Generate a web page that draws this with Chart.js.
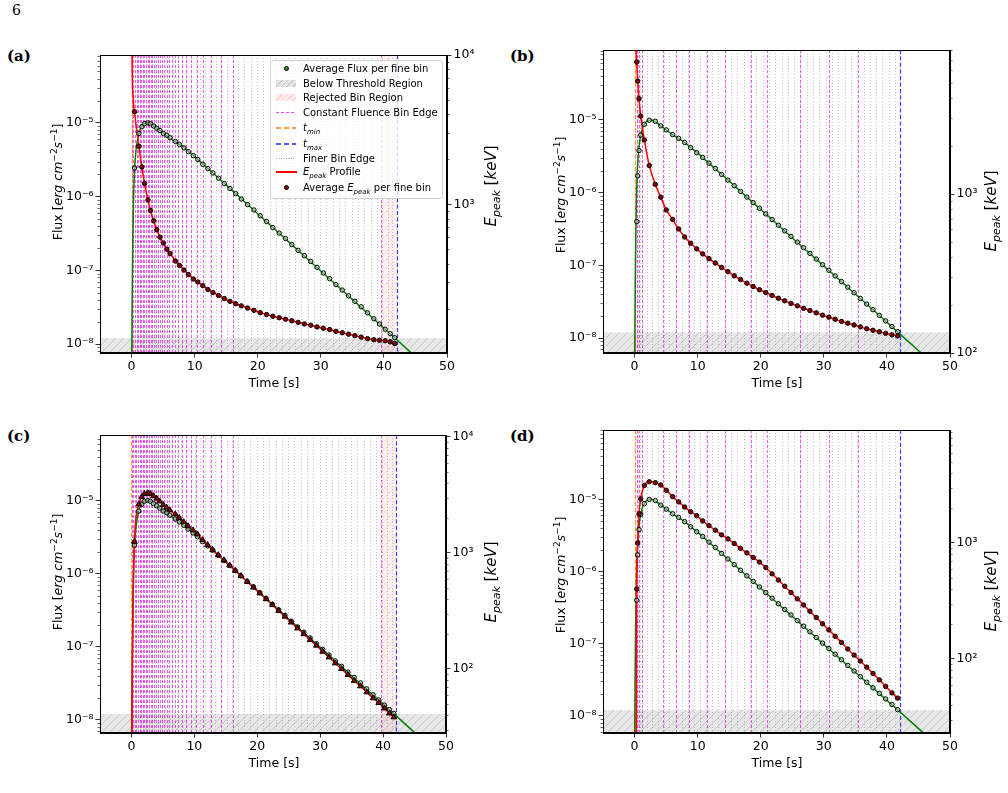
<!DOCTYPE html>
<html>
<head>
<meta charset="utf-8">
<script src="https://cdn.jsdelivr.net/npm/chart.js@4.4.0/dist/chart.umd.min.js"></script>
<style>
  body { margin: 0; background: #fff; width: 1008px; height: 793px; position: relative; overflow: hidden; font-family: 'DejaVu Sans', sans-serif; }
  canvas { position: absolute; }
  .plabel { position: absolute; font-family: 'DejaVu Serif', serif; font-weight: bold; font-size: 15px; }
  .ytitle { position: absolute; font-size: 12.5px; white-space: nowrap; transform: translate(-50%, -50%) rotate(-90deg); }
  .etitle { font-size: 15px; }
  .xtitle { position: absolute; font-size: 12.5px; white-space: nowrap; transform: translate(-50%, -50%); }
  .ytitle sup { font-size: 9px; }
  .ytitle sub { font-size: 11px; }
  #legend { position: absolute; left: 270px; top: 60px; width: 171px; height: 137px; border: 1px solid #d0d0d0; border-radius: 3px; background: rgba(255,255,255,0.8); font-size: 10px; }
  #legend .row { position: absolute; left: 0; height: 14px; line-height: 14px; width: 100%; }
  #legend .txt { position: absolute; left: 32px; top: 0; white-space: nowrap; }
  #legend .mk { position: absolute; display: block; }
  #legend sub { font-size: 7px; }
</style>
</head>
<body>
<div style="position:absolute;left:12px;top:2px;font-family:'DejaVu Serif',serif;font-size:14px;">6</div>
<div class="plabel" style="left:7px;top:47px;">(a)</div>
<div class="plabel" style="left:510px;top:47px;">(b)</div>
<div class="plabel" style="left:7px;top:427px;">(c)</div>
<div class="plabel" style="left:510px;top:427px;">(d)</div>

<canvas id="ca"></canvas>
<canvas id="cb"></canvas>
<canvas id="cc"></canvas>
<canvas id="cd"></canvas>

<div class="ytitle" style="left:57px;top:182px;">Flux [<i>erg cm</i><sup>−2</sup><i>s</i><sup>−1</sup>]</div>
<div class="ytitle etitle" style="left:492px;top:186px;"><i>E<sub>peak</sub></i> [<i>keV</i>]</div>
<div class="ytitle" style="left:560px;top:195px;">Flux [<i>erg cm</i><sup>−2</sup><i>s</i><sup>−1</sup>]</div>
<div class="ytitle etitle" style="left:992px;top:211px;"><i>E<sub>peak</sub></i> [<i>keV</i>]</div>
<div class="ytitle" style="left:57px;top:572px;">Flux [<i>erg cm</i><sup>−2</sup><i>s</i><sup>−1</sup>]</div>
<div class="ytitle etitle" style="left:492px;top:582px;"><i>E<sub>peak</sub></i> [<i>keV</i>]</div>
<div class="ytitle" style="left:560px;top:575px;">Flux [<i>erg cm</i><sup>−2</sup><i>s</i><sup>−1</sup>]</div>
<div class="ytitle etitle" style="left:992px;top:591px;"><i>E<sub>peak</sub></i> [<i>keV</i>]</div>
<div class="xtitle" style="left:274px;top:382px;">Time [s]</div>
<div class="xtitle" style="left:777px;top:382px;">Time [s]</div>
<div class="xtitle" style="left:274px;top:762px;">Time [s]</div>
<div class="xtitle" style="left:777px;top:762px;">Time [s]</div>

<div id="legend">
  <div class="row" style="top:1px;"><span class="mk" style="left:13px;top:4px;width:3px;height:3px;border:1px solid #000;border-radius:50%;background:#2e8b2e;"></span><span class="txt">Average Flux per fine bin</span></div>
  <div class="row" style="top:16px;"><span class="mk" style="left:5px;top:3px;width:20px;height:7px;background:repeating-linear-gradient(135deg,rgba(150,150,150,0.5) 0 1px,rgba(215,215,215,0.6) 1px 4px);"></span><span class="txt">Below Threshold Region</span></div>
  <div class="row" style="top:30px;"><span class="mk" style="left:5px;top:3px;width:20px;height:7px;background:repeating-linear-gradient(135deg,rgba(255,170,170,0.5) 0 1px,rgba(255,225,225,0.6) 1px 4px);"></span><span class="txt">Rejected Bin Region</span></div>
  <div class="row" style="top:45px;"><span class="mk" style="left:5px;top:6px;width:20px;height:1px;background:repeating-linear-gradient(90deg,#ff40ff 0 3px,transparent 3px 5px);"></span><span class="txt">Constant Fluence Bin Edge</span></div>
  <div class="row" style="top:60px;"><span class="mk" style="left:5px;top:6px;width:20px;height:2px;background:repeating-linear-gradient(90deg,#ffa040 0 5px,transparent 5px 8px);"></span><span class="txt"><i>t<sub>min</sub></i></span></div>
  <div class="row" style="top:76px;"><span class="mk" style="left:5px;top:6px;width:20px;height:2px;background:repeating-linear-gradient(90deg,#5a5aff 0 5px,transparent 5px 8px);"></span><span class="txt"><i>t<sub>max</sub></i></span></div>
  <div class="row" style="top:91px;"><span class="mk" style="left:5px;top:6px;width:20px;height:1px;background:repeating-linear-gradient(90deg,#aaa 0 1px,transparent 1px 2.5px);"></span><span class="txt">Finer Bin Edge</span></div>
  <div class="row" style="top:104px;"><span class="mk" style="left:5px;top:6px;width:21px;height:2px;background:#ff0000;"></span><span class="txt"><i>E<sub>peak</sub></i> Profile</span></div>
  <div class="row" style="top:120px;"><span class="mk" style="left:13px;top:4px;width:3px;height:3px;border:1px solid #000;border-radius:50%;background:#8b0000;"></span><span class="txt">Average <i>E<sub>peak</sub></i> per fine bin</span></div>
</div>

<script>
// ---- shared axis ticks ----
const timeTicks = [0, 10, 20, 30, 40, 50];
const fluxThreshold = 1.2e-8;

// ---- flux light curve (green profile line), same burst in all panels ----
const fluxLineT = [0.0, 0.1, 0.2, 0.3, 0.4, 0.5, 0.7, 1.0, 1.3, 1.6, 2.0, 2.5, 3.0, 3.5, 4.0, 5.0, 6.0, 7.0, 8.0, 9.0, 10.0, 12.0, 14.0, 18.0, 22.0, 26.0, 30.0, 34.0, 38.0, 42.0, 46.0];
const fluxLineF = [3e-9, 4e-8, 2.5e-7, 8e-7, 1.6e-6, 2.5e-6, 4.2e-6, 6.3e-6, 7.9e-6, 8.9e-6, 9.7e-6, 1.0e-5, 9.8e-6, 9.2e-6, 8.5e-6, 7.3e-6, 6.3e-6, 5.55e-6, 4.85e-6, 4.1e-6, 3.5e-6, 2.45e-6, 1.72e-6, 8.4e-7, 4.1e-7, 2.0e-7, 9.8e-8, 4.8e-8, 2.35e-8, 1.15e-8, 5.6e-9];

// ---- panels (a) and (c): fine bins ----
const acBinT = [0.47, 1.16, 1.63, 2.06, 2.6, 3.0, 3.5, 4.0, 4.5, 5.05, 5.6, 6.1, 6.96, 7.6, 8.3, 9.0, 9.8, 10.5, 11.3, 12.1, 12.9, 13.8, 14.7, 15.6, 16.5, 17.4, 18.4, 19.4, 20.4, 21.4, 22.4, 23.4, 24.4, 25.4, 26.4, 27.4, 28.4, 29.4, 30.4, 31.4, 32.4, 33.4, 34.4, 35.4, 36.4, 37.4, 38.4, 39.3, 40.2, 41.0, 41.7];
const acBinFlux = [2.45e-6, 7.2e-6, 8.9e-6, 9.8e-6, 1.0e-5, 9.8e-6, 9.1e-6, 8.5e-6, 7.9e-6, 7.2e-6, 6.8e-6, 6.3e-6, 5.6e-6, 5.1e-6, 4.6e-6, 4.07e-6, 3.6e-6, 3.2e-6, 2.75e-6, 2.4e-6, 2.1e-6, 1.78e-6, 1.51e-6, 1.29e-6, 1.10e-6, 9.3e-7, 7.8e-7, 6.6e-7, 5.5e-7, 4.6e-7, 3.8e-7, 3.2e-7, 2.7e-7, 2.24e-7, 1.87e-7, 1.58e-7, 1.32e-7, 1.10e-7, 9.2e-8, 7.7e-8, 6.4e-8, 5.4e-8, 4.5e-8, 3.8e-8, 3.2e-8, 2.65e-8, 2.2e-8, 1.87e-8, 1.59e-8, 1.38e-8, 1.22e-8];
const acFluenceEdges = [0.05, 0.3, 0.55, 0.8, 1.05, 1.3, 1.55, 1.8, 2.05, 2.3, 2.55, 2.8, 3.05, 3.3, 3.6, 3.9, 4.2, 4.5, 4.85, 5.2, 5.6, 6.0, 6.45, 6.9, 7.4, 8.0, 8.7, 9.5, 10.3, 11.3, 12.6, 14.2, 16.1, 39.6];
const acFineEdges = [0.1, 0.8, 1.4, 1.85, 2.3, 2.8, 3.25, 3.75, 4.25, 4.8, 5.3, 5.85, 6.5, 7.3, 7.95, 8.65, 9.4, 10.15, 10.9, 11.7, 12.5, 13.35, 14.25, 15.15, 16.05, 16.95, 17.9, 18.9, 19.9, 20.9, 21.9, 22.9, 23.9, 24.9, 25.9, 26.9, 27.9, 28.9, 29.9, 30.9, 31.9, 32.9, 33.9, 34.9, 35.9, 36.9, 37.9, 38.85, 39.75, 40.6, 41.35, 42.1];
const acRejected = [39.6, 42.1];

// (a) E_peak falling hard-to-soft
const aEpeak = [4170, 2450, 1780, 1380, 1070, 910, 776, 676, 603, 550, 500, 468, 417, 389, 363, 339, 316, 302, 285, 269, 257, 245, 234, 224, 216, 209, 202, 195, 188, 183, 178, 174, 170, 166, 162, 158, 155, 151, 148, 145, 141, 138, 135, 132, 129, 126, 124, 123, 122, 120, 117];
const aEpeakStartT = [0.0, 0.1, 0.25];
const aEpeakStartE = [30000, 8000, 5200];

// (c) E_peak tracking the flux
const cEpeak = [1250, 2630, 3050, 3240, 3290, 3240, 3100, 2950, 2790, 2600, 2460, 2340, 2160, 2010, 1850, 1705, 1570, 1450, 1295, 1175, 1065, 960, 867, 782, 704, 634, 565, 504, 449, 400, 356, 317, 283, 252, 224, 200, 178, 159, 141, 126, 112, 100, 89, 79, 71, 63, 56, 51, 45.7, 41.4, 38.3];
const cEpeakStartT = [0.05, 0.15, 0.3];
const cEpeakStartE = [15, 120, 500];

// ---- panels (b) and (d): fine bins ----
const bdBinT = [0.35, 0.5, 0.71, 0.98, 1.55, 2.34, 3.29, 4.15, 5.03, 6.04, 6.99, 7.94, 8.9, 9.85, 10.8, 11.8, 12.8, 13.8, 14.8, 15.8, 16.8, 17.8, 18.8, 19.8, 20.8, 21.8, 22.8, 23.8, 24.8, 25.8, 26.8, 27.8, 28.8, 29.8, 30.8, 31.8, 32.8, 33.8, 34.8, 35.8, 36.8, 37.8, 38.8, 39.8, 40.8, 41.7];
const bdBinFlux = [4e-7, 1.7e-6, 3.8e-6, 6.2e-6, 8.7e-6, 9.95e-6, 9.6e-6, 8.3e-6, 7.3e-6, 6.3e-6, 5.6e-6, 4.9e-6, 4.15e-6, 3.55e-6, 3.05e-6, 2.55e-6, 2.15e-6, 1.78e-6, 1.49e-6, 1.245e-6, 1.04e-6, 8.7e-7, 7.3e-7, 6.1e-7, 5.1e-7, 4.27e-7, 3.57e-7, 2.98e-7, 2.5e-7, 2.09e-7, 1.75e-7, 1.46e-7, 1.22e-7, 1.02e-7, 8.56e-8, 7.16e-8, 5.99e-8, 5.01e-8, 4.19e-8, 3.5e-8, 2.93e-8, 2.45e-8, 2.05e-8, 1.72e-8, 1.44e-8, 1.22e-8];
const bdFluenceEdges = [0.35, 0.76, 1.14, 4.56, 6.5, 8.6, 11.5, 14.4, 18.5, 21.0, 26.2, 30.8, 35.4];
const bdFineEdges = [0.05, 0.42, 0.6, 0.85, 1.25, 1.95, 2.8, 3.7, 4.6, 5.5, 6.5, 7.45, 8.4, 9.4, 10.3, 11.3, 12.3, 13.3, 14.3, 15.3, 16.3, 17.3, 18.3, 19.3, 20.3, 21.3, 22.3, 23.3, 24.3, 25.3, 26.3, 27.3, 28.3, 29.3, 30.3, 31.3, 32.3, 33.3, 34.3, 35.3, 36.3, 37.3, 38.3, 39.3, 40.3, 41.3, 42.1];
const bdRejected = [0.0, 0.3];

// (b) E_peak
const bEpeak = [6760, 5130, 3980, 3090, 2190, 1510, 1150, 955, 794, 692, 603, 537, 490, 452, 420, 392, 368, 345, 325, 306, 290, 275, 262, 250, 240, 230, 221, 213, 205, 198, 191, 185, 179, 173, 168, 163, 158, 154, 150, 146, 142, 139, 136, 133, 130, 128];
const bEpeakStartT = [0.0, 0.2];
const bEpeakStartE = [30000, 9000];

// (d) E_peak
const dEpeak = [400, 1000, 1780, 2400, 3140, 3370, 3310, 3160, 2850, 2510, 2260, 2040, 1860, 1720, 1550, 1410, 1290, 1175, 1085, 990, 900, 822, 750, 684, 614, 542, 479, 424, 374, 330, 292, 258, 228, 201, 178, 157, 139, 122, 108, 96, 85, 75, 66, 58, 51, 46];
const dEpeakStartT = [0.25, 0.3];
const dEpeakStartE = [10, 60];

const tMin = 0.0;
const tMax = 42.1;

// ---- helpers ----
const SUP = { '-': '⁻', '0': '⁰', '1': '¹', '2': '²', '3': '³', '4': '⁴', '5': '⁵', '6': '⁶', '7': '⁷', '8': '⁸', '9': '⁹' };
const pow10Label = v => '10' + String(Math.round(Math.log10(v))).split('').map(c => SUP[c]).join('');
const xy = (ts, vs) => ts.map((t, i) => ({ x: t, y: vs[i] }));

function decadeTicks(scale) {
  const out = [];
  for (let e = -12; e <= 6; e++) {
    const v = Math.pow(10, e);
    if (v >= scale.min * 0.999 && v <= scale.max * 1.001) out.push({ value: v });
  }
  scale.ticks = out;
}

function hatchPattern(ctx, color) {
  const c = document.createElement('canvas');
  c.width = 8; c.height = 8;
  const g = c.getContext('2d');
  g.strokeStyle = color;
  g.lineWidth = 0.7;
  g.beginPath();
  g.moveTo(0, 8); g.lineTo(8, 0);
  g.moveTo(-2, 2); g.lineTo(2, -2);
  g.moveTo(6, 10); g.lineTo(10, 6);
  g.stroke();
  return ctx.createPattern(c, 'repeat');
}

function overlayPlugin(p) {
  return {
    id: 'overlay',
    beforeDatasetsDraw(chart) {
      const { ctx, chartArea: a, scales: { x, y } } = chart;
      ctx.save();
      ctx.beginPath();
      ctx.rect(a.left, a.top, a.right - a.left, a.bottom - a.top);
      ctx.clip();

      // below threshold band
      const yt = y.getPixelForValue(fluxThreshold);
      ctx.fillStyle = 'rgba(170,170,170,0.28)';
      ctx.fillRect(a.left, yt, a.right - a.left, a.bottom - yt);
      ctx.fillStyle = hatchPattern(ctx, 'rgba(120,120,120,0.4)');
      ctx.fillRect(a.left, yt, a.right - a.left, a.bottom - yt);

      // rejected bins
      const r1 = x.getPixelForValue(p.rejected[0]), r2 = x.getPixelForValue(p.rejected[1]);
      ctx.fillStyle = 'rgba(255,170,170,0.18)';
      ctx.fillRect(r1, a.top, r2 - r1, a.bottom - a.top);
      ctx.fillStyle = hatchPattern(ctx, 'rgba(255,140,140,0.3)');
      ctx.fillRect(r1, a.top, r2 - r1, a.bottom - a.top);

      const vlines = (ts, color, dash, w) => {
        ctx.strokeStyle = color; ctx.setLineDash(dash); ctx.lineWidth = w;
        ts.forEach(t => {
          const px = Math.round(x.getPixelForValue(t)) + 0.5;
          ctx.beginPath(); ctx.moveTo(px, a.top); ctx.lineTo(px, a.bottom); ctx.stroke();
        });
      };
      vlines(p.fine, 'rgba(130,130,130,0.6)', [1, 2], 0.8);
      vlines(p.fluence, 'rgba(230,0,230,0.7)', [3, 2], 0.9);
      vlines([tMin], 'rgba(255,140,0,0.8)', [4, 2.5], 1.2);
      vlines([tMax], 'rgba(30,30,255,0.85)', [4, 2.5], 1.2);
      ctx.restore();
    },
    afterDraw(chart) {
      const { ctx, chartArea: a, scales } = chart;
      ctx.save();
      ctx.strokeStyle = '#000';
      ctx.lineWidth = 1;
      ctx.strokeRect(a.left + 0.5, a.top + 0.5, a.right - a.left - 1, a.bottom - a.top - 1);
      // minor log ticks
      ctx.lineWidth = 0.6;
      [['y', a.left, -1], ['y2', a.right, 1]].forEach(([id, x0, dir]) => {
        const s = scales[id];
        for (let e = -12; e <= 6; e++) {
          for (let m = 2; m <= 9; m++) {
            const v = m * Math.pow(10, e);
            if (v <= s.min || v >= s.max) continue;
            const py = Math.round(s.getPixelForValue(v)) + 0.5;
            ctx.beginPath(); ctx.moveTo(x0, py); ctx.lineTo(x0 + dir * 2.5, py); ctx.stroke();
          }
        }
      });
      ctx.restore();
    }
  };
}

function makePanel(id, p) {
  const padL = 70, padR = 60, padT = 15, padB = 45;
  const cv = document.getElementById(id);
  cv.width = p.box.r - p.box.l + padL + padR;
  cv.height = p.box.b - p.box.t + padT + padB;
  cv.style.left = (p.box.l - padL) + 'px';
  cv.style.top = (p.box.t - padT) + 'px';

  const tickFont = { family: 'DejaVu Sans', size: 12.5 };
  const axisCommon = {
    grid: { drawOnChartArea: false, tickLength: 4.5, color: '#000', lineWidth: 0.8 },
    border: { display: true, color: '#000', width: 1 },
    ticks: { color: '#000', font: tickFont, padding: 2 }
  };

  new Chart(cv, {
    type: 'line',
    data: {
      datasets: [
        {
          label: 'Average Epeak per fine bin', yAxisID: 'y2', order: 0, showLine: false,
          data: xy(p.binT, p.epeak),
          pointStyle: p.epeakMarker, pointRadius: p.epeakMarker === 'triangle' ? 3.3 : 2.2,
          pointBackgroundColor: '#8b0000', pointBorderColor: '#000', pointBorderWidth: 1
        },
        {
          label: 'Average Flux per fine bin', yAxisID: 'y', order: 1, showLine: false,
          data: xy(p.binT, p.flux),
          pointRadius: 2.2, pointBackgroundColor: 'rgba(170,210,170,0.6)', pointBorderColor: '#000', pointBorderWidth: 1
        },
        {
          label: 'Epeak Profile', yAxisID: 'y2', order: 2,
          data: xy(p.epeakStartT, p.epeakStartE).concat(xy(p.binT, p.epeak)),
          borderColor: '#ff0000', borderWidth: 1.5, pointRadius: 0, cubicInterpolationMode: 'monotone'
        },
        {
          label: 'Flux Profile', yAxisID: 'y', order: 3,
          data: xy(fluxLineT, fluxLineF),
          borderColor: '#008000', borderWidth: 1.5, pointRadius: 0, cubicInterpolationMode: 'monotone'
        }
      ]
    },
    options: {
      responsive: false,
      animation: false,
      devicePixelRatio: 1,
      layout: { padding: { top: padT, left: 0, right: 0, bottom: 0 } },
      plugins: { legend: { display: false }, tooltip: { enabled: false } },
      scales: {
        x: {
          ...axisCommon, type: 'linear', min: -5, max: 50,
          afterBuildTicks: s => { s.ticks = timeTicks.map(v => ({ value: v })); },
          afterFit: s => { s.height = padB; },
          ticks: { ...axisCommon.ticks, callback: v => String(v) }
        },
        y: {
          ...axisCommon, type: 'logarithmic', position: 'left', min: p.fluxMin, max: p.fluxMax,
          afterBuildTicks: decadeTicks,
          afterFit: s => { s.width = padL; },
          ticks: { ...axisCommon.ticks, callback: pow10Label }
        },
        y2: {
          ...axisCommon, type: 'logarithmic', position: 'right', min: p.eMin, max: p.eMax,
          afterBuildTicks: decadeTicks,
          afterFit: s => { s.width = padR; },
          ticks: { ...axisCommon.ticks, callback: pow10Label }
        }
      }
    },
    plugins: [overlayPlugin(p)]
  });
}

makePanel('ca', {
  box: { l: 100, t: 55, r: 447, b: 353 },
  fluxMin: 7.55e-9, fluxMax: 8.37e-5, eMin: 101, eMax: 10000,
  binT: acBinT, flux: acBinFlux, epeak: aEpeak, epeakStartT: aEpeakStartT, epeakStartE: aEpeakStartE,
  epeakMarker: 'circle', fine: acFineEdges, fluence: acFluenceEdges, rejected: acRejected
});
makePanel('cb', {
  box: { l: 603, t: 50, r: 950, b: 353 },
  fluxMin: 6.22e-9, fluxMax: 9.18e-5, eMin: 100, eMax: 8050,
  binT: bdBinT, flux: bdBinFlux, epeak: bEpeak, epeakStartT: bEpeakStartT, epeakStartE: bEpeakStartE,
  epeakMarker: 'circle', fine: bdFineEdges, fluence: bdFluenceEdges, rejected: bdRejected
});
makePanel('cc', {
  box: { l: 100, t: 435, r: 446, b: 733 },
  fluxMin: 6.6e-9, fluxMax: 7.9e-5, eMin: 28, eMax: 10400,
  binT: acBinT, flux: acBinFlux, epeak: cEpeak, epeakStartT: cEpeakStartT, epeakStartE: cEpeakStartE,
  epeakMarker: 'triangle', fine: acFineEdges, fluence: acFluenceEdges, rejected: acRejected
});
makePanel('cd', {
  box: { l: 603, t: 430, r: 950, b: 733 },
  fluxMin: 5.8e-9, fluxMax: 9.1e-5, eMin: 23, eMax: 9420,
  binT: bdBinT, flux: bdBinFlux, epeak: dEpeak, epeakStartT: dEpeakStartT, epeakStartE: dEpeakStartE,
  epeakMarker: 'circle', fine: bdFineEdges, fluence: bdFluenceEdges, rejected: bdRejected
});
</script>
</body>
</html>
